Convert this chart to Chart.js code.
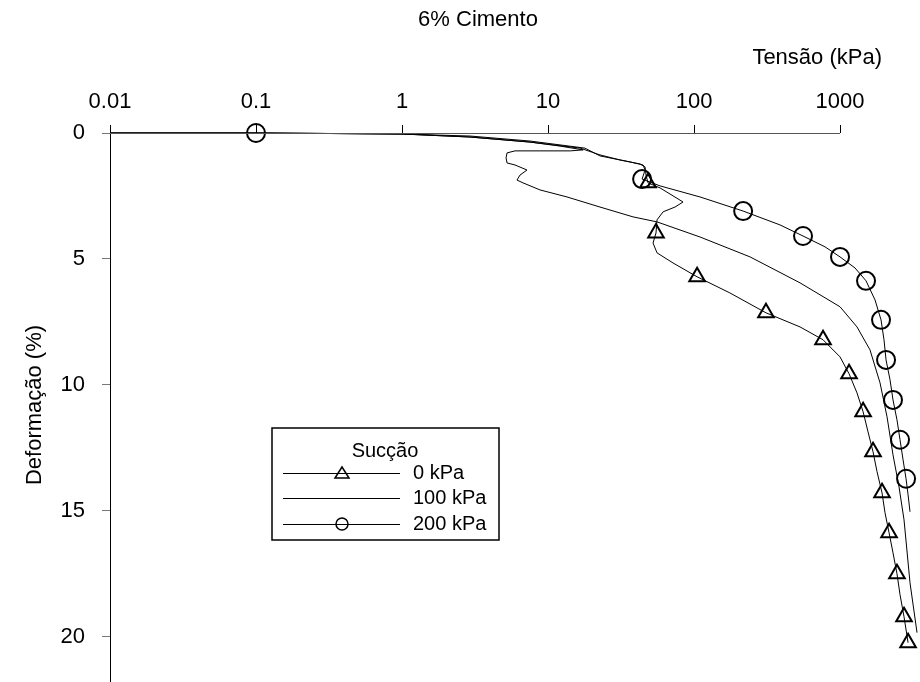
<!DOCTYPE html>
<html>
<head>
<meta charset="utf-8">
<script src="https://cdn.jsdelivr.net/npm/chart.js@4.4.1/dist/chart.umd.min.js"></script>
<style>
  html, body { margin: 0; padding: 0; background: #fff; }
  #wrap { width: 920px; height: 682px; }
</style>
</head>
<body>
<div id="wrap"><canvas id="graficoEnsaio"></canvas></div>
<script>
// Tensão (kPa) e deformação (%)
const tensao0 = [0.01, 0.1, 1, 2.92, 7.53, 16.6, 22.7, 31.1, 42.7, 46.2, 46.9, 48.4, 58.5, 84.1, 74.1, 61.4, 55.8, 54.9, 52.4, 55.8, 71.8, 105, 176, 311, 532, 765, 1000, 1153, 1307, 1439, 1556, 1683, 1793, 1940, 2033, 2167, 2306, 2455, 2576, 2744, 2925];
const deform0 = [0, 0, 0.04, 0.16, 0.36, 0.6, 0.87, 1.07, 1.23, 1.35, 1.67, 1.98, 2.18, 2.74, 2.94, 3.13, 3.45, 3.97, 4.37, 4.76, 5.16, 5.71, 6.35, 7.14, 7.7, 8.21, 8.89, 9.56, 10.32, 11.07, 11.87, 12.66, 13.45, 14.29, 15.08, 15.87, 16.67, 17.5, 18.33, 19.21, 20.24];

const tensao100 = [0.01, 0.1, 1, 2.92, 7.53, 12.1, 17.4, 14.2, 8.81, 5.94, 5.24, 5.16, 5.24, 5.94, 7.18, 6.43, 6.13, 6.74, 8.81, 13.5, 22.7, 38.2, 55.8, 110, 242, 532, 1000, 1307, 1604, 1879, 2099, 2306, 2535, 2744, 3015, 3368];
const deform100 = [0, 0, 0.04, 0.16, 0.36, 0.52, 0.67, 0.71, 0.71, 0.71, 0.79, 0.99, 1.19, 1.27, 1.47, 1.67, 1.87, 1.98, 2.26, 2.54, 2.94, 3.33, 3.53, 4.13, 4.92, 5.95, 6.9, 7.7, 8.61, 9.92, 11.27, 12.78, 14.05, 15.36, 17.86, 19.84];

const tensao200 = [0.01, 0.1, 1, 2.92, 7.53, 17.9, 22.7, 36.5, 44.8, 46.2, 44.1, 58.5, 110, 217, 388, 558, 789, 1000, 1267, 1507, 1737, 1909, 2001, 2066, 2200, 2306, 2455, 2576, 2703, 2833, 2925, 3015];
const deform200 = [0, 0, 0.04, 0.12, 0.32, 0.6, 0.91, 1.15, 1.27, 1.47, 1.83, 2.1, 2.54, 3.1, 3.65, 4.09, 4.52, 4.92, 5.36, 5.87, 6.63, 7.42, 8.21, 9.01, 9.8, 10.6, 11.39, 12.18, 12.98, 13.73, 14.37, 15.04];

// pontos com símbolo
const marcaTensao0 = [48.4, 54.9, 105, 311, 765, 1153, 1439, 1683, 1940, 2167, 2455, 2744, 2925];
const marcaDeform0 = [1.98, 3.97, 5.71, 7.14, 8.21, 9.56, 11.07, 12.66, 14.29, 15.87, 17.5, 19.21, 20.24];
const marcaTensao200 = [0.1, 44.1, 217, 558, 1000, 1507, 1909, 2066, 2306, 2576, 2833];
const marcaDeform200 = [0, 1.83, 3.1, 4.09, 4.92, 5.87, 7.42, 9.01, 10.6, 12.18, 13.73];

const ticksX = [0.01, 0.1, 1, 10, 100, 1000];
const ticksY = [0, 5, 10, 15, 20];
const legendaSuccao = ['0 kPa', '100 kPa', '200 kPa'];

const fonte = 'Liberation Sans, Arial, sans-serif';

function pontos(xs, ys) {
    return xs.map((x, i) => ({ x: x, y: ys[i] }));
}

function curva(xs, ys) {
    return {
        data: pontos(xs, ys),
        borderColor: '#000',
        borderWidth: 1,
        pointRadius: 0,
        tension: 0,
        fill: false,
        clip: false
    };
}

function marcas(xs, ys, estilo, raio) {
    return {
        data: pontos(xs, ys),
        showLine: false,
        pointStyle: estilo,
        pointRadius: raio,
        pointBorderColor: '#000',
        pointBackgroundColor: 'rgba(0,0,0,0)',
        pointBorderWidth: 2,
        clip: false
    };
}

function semPadding(s) {
    s.paddingLeft = 0;
    s.paddingRight = 0;
    s.paddingTop = 0;
    s.paddingBottom = 0;
}

// textos, eixo superior até 1000 e legenda
const extras = {
    id: 'extras',
    afterDraw(chart) {
        const ctx = chart.ctx;
        const sx = chart.scales.x;
        const area = chart.chartArea;
        ctx.save();

        ctx.strokeStyle = '#555';
        ctx.lineWidth = 1;
        ctx.beginPath();
        ctx.moveTo(area.left, area.top + 0.5);
        ctx.lineTo(sx.getPixelForValue(1000), area.top + 0.5);
        ctx.stroke();

        ctx.fillStyle = '#000';
        ctx.font = '22px ' + fonte;
        ctx.textAlign = 'center';
        ctx.textBaseline = 'middle';
        ctx.fillText('6% Cimento', 478, 20);
        ctx.textAlign = 'right';
        ctx.fillText('Tensão (kPa)', 882, 58);
        ctx.textAlign = 'center';

        ctx.save();
        ctx.translate(35, 405);
        ctx.rotate(-Math.PI / 2);
        ctx.fillText('Deformação (%)', 0, 0);
        ctx.restore();

        // legenda
        ctx.strokeStyle = '#000';
        ctx.lineWidth = 1.5;
        ctx.strokeRect(272, 428, 227, 112);
        ctx.font = '20px ' + fonte;
        ctx.fillText('Sucção', 385, 451);
        const ys = [473, 498, 524];
        legendaSuccao.forEach((txt, i) => {
            ctx.lineWidth = 1;
            ctx.beginPath();
            ctx.moveTo(283, ys[i] + 0.5);
            ctx.lineTo(400, ys[i] + 0.5);
            ctx.stroke();
            ctx.lineWidth = 1.5;
            if (i === 0) {
                ctx.beginPath();
                ctx.moveTo(342, ys[i] - 6);
                ctx.lineTo(349, ys[i] + 5);
                ctx.lineTo(335, ys[i] + 5);
                ctx.closePath();
                ctx.stroke();
            } else if (i === 2) {
                ctx.beginPath();
                ctx.arc(342, ys[i], 6, 0, Math.PI * 2);
                ctx.stroke();
            }
            ctx.textAlign = 'left';
            ctx.fillText(txt, 413, ys[i]);
            ctx.textAlign = 'center';
        });
        ctx.restore();
    }
};

const ctx = document.getElementById('graficoEnsaio').getContext('2d');
const graficoEnsaio = new Chart(ctx, {
    type: 'line',

    data: {
        datasets: [
            curva(tensao0, deform0),
            curva(tensao100, deform100),
            curva(tensao200, deform200),
            marcas(marcaTensao0, marcaDeform0, 'triangle', 9),
            marcas(marcaTensao200, marcaDeform200, 'circle', 9)
        ]
    },

    options: {
        responsive: true,
        maintainAspectRatio: false,
        animation: false,
        layout: { padding: 0, autoPadding: false },
        plugins: {
            legend: { display: false },
            tooltip: { enabled: false }
        },
        scales: {
            x: {
                type: 'logarithmic',
                position: 'top',
                min: 0.01,
                max: 3530,
                afterBuildTicks: (s) => { s.ticks = ticksX.map(v => ({ value: v })); },
                afterFit: (s) => { s.height = 133; semPadding(s); },
                ticks: {
                    color: '#000',
                    font: { family: fonte, size: 22 },
                    padding: 10,
                    maxRotation: 0,
                    autoSkip: false,
                    callback: (v) => String(v)
                },
                grid: { drawOnChartArea: false, drawTicks: true, tickLength: 8, color: '#000' },
                border: { display: false }
            },
            y: {
                type: 'linear',
                reverse: true,
                min: 0,
                max: 21.8,
                afterBuildTicks: (s) => { s.ticks = ticksY.map(v => ({ value: v })); },
                afterFit: (s) => { s.width = 110; semPadding(s); },
                ticks: {
                    color: '#000',
                    font: { family: fonte, size: 22 },
                    padding: 17
                },
                grid: { drawOnChartArea: false, drawTicks: true, tickLength: 8, color: '#777' },
                border: { display: true, color: '#000', width: 1 }
            }
        }
    },
    plugins: [extras]
});
</script>
</body>
</html>
